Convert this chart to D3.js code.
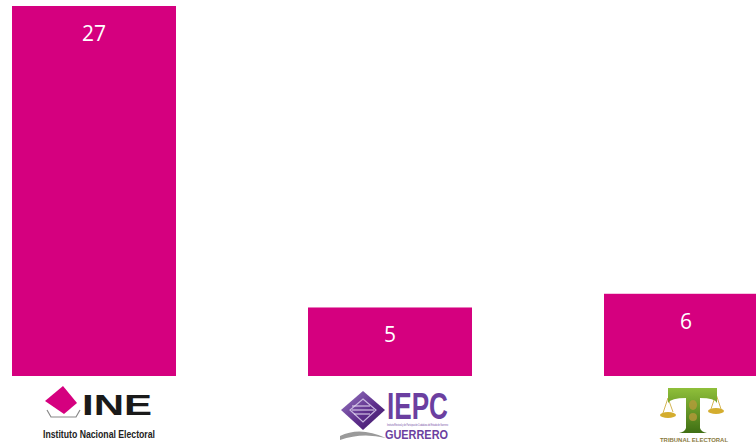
<!DOCTYPE html>
<html>
<head>
<meta charset="utf-8">
<script src="https://cdn.jsdelivr.net/npm/d3@7"></script>
<style>
  html, body { margin: 0; padding: 0; background: #fff; }
  svg { display: block; }
</style>
</head>
<body>
<div id="chart"></div>
<script>
// Data
const categories = ["INE", "IEPC Guerrero", "Tribunal Electoral"];
const values = [27, 5, 6];

const W = 756, H = 444;
const baseY = 376;

const svg = d3.select("#chart").append("svg")
  .attr("width", W)
  .attr("height", H);

const defs = svg.append("defs");
const gPurple = defs.append("linearGradient").attr("id", "gPurple")
  .attr("x1", 0).attr("y1", 0).attr("x2", 1).attr("y2", 1);
gPurple.append("stop").attr("offset", "0%").attr("stop-color", "#9a7cc4");
gPurple.append("stop").attr("offset", "55%").attr("stop-color", "#5e2f8c");
gPurple.append("stop").attr("offset", "100%").attr("stop-color", "#3d1866");
const gGreen = defs.append("linearGradient").attr("id", "gGreen")
  .attr("x1", 0).attr("y1", 0).attr("x2", 0).attr("y2", 1);
gGreen.append("stop").attr("offset", "0%").attr("stop-color", "#8fbf3a");
gGreen.append("stop").attr("offset", "100%").attr("stop-color", "#3f6f14");

// Scales
const x = d3.scaleBand()
  .domain(categories)
  .range([-54, 834])
  .paddingInner(0.446)
  .paddingOuter(0.223);

const y = d3.scaleLinear()
  .domain([0, 27])
  .range([baseY, 6]);

// Bars
svg.selectAll("rect.bar")
  .data(values)
  .enter()
  .append("rect")
  .attr("class", "bar")
  .attr("x", (d, i) => x(categories[i]))
  .attr("y", d => y(d))
  .attr("width", x.bandwidth())
  .attr("height", d => y(0) - y(d))
  .attr("fill", "#d5007f");

// Value labels
svg.selectAll("text.val")
  .data(values)
  .enter()
  .append("text")
  .attr("class", "val")
  .attr("x", (d, i) => x(categories[i]) + x.bandwidth() / 2)
  .attr("y", d => y(d) + 35)
  .attr("text-anchor", "middle")
  .attr("font-family", "'Open Sans', sans-serif")
  .attr("font-size", 21)
  .attr("fill", "#fff")
  .text(d => d);

// X axis with logos as tick labels
const axis = svg.append("g")
  .attr("transform", `translate(0,${baseY})`)
  .call(d3.axisBottom(x).tickSize(0).tickFormat(""));
axis.select(".domain").remove();
axis.attr("text-anchor", "start");

const ticks = axis.selectAll(".tick");

// INE logo
const ine = ticks.filter(d => d === "INE");
ine.append("polygon")
  .attr("points", "-31,10 -17,27 -30,38 -49,25")
  .attr("fill", "#d5007f");
ine.append("polyline")
  .attr("points", "-47,34 -43,41 -18,41 -14,34")
  .attr("fill", "none").attr("stroke", "#888").attr("stroke-width", 1.2);
ine.append("text")
  .attr("x", -12).attr("y", 39)
  .attr("font-family", "'Liberation Sans', Arial, sans-serif")
  .attr("font-weight", "bold").attr("font-size", 29)
  .attr("textLength", 70).attr("lengthAdjust", "spacingAndGlyphs")
  .attr("fill", "#1a1a1a")
  .text("INE");
ine.append("text")
  .attr("x", -51).attr("y", 62)
  .attr("font-family", "'Liberation Sans', Arial, sans-serif")
  .attr("font-weight", "bold").attr("font-size", 11)
  .attr("textLength", 112).attr("lengthAdjust", "spacingAndGlyphs")
  .attr("fill", "#222")
  .text("Instituto Nacional Electoral");

// IEPC logo
const iepc = ticks.filter(d => d === "IEPC Guerrero");
iepc.append("polygon")
  .attr("points", "-27,15 -5,34 -27,54 -49,34")
  .attr("fill", "url(#gPurple)");
iepc.append("polygon")
  .attr("points", "-27,23 -14,34 -27,46 -40,34")
  .attr("fill", "none").attr("stroke", "#c9b8e0").attr("stroke-width", 1.2);
iepc.append("path")
  .attr("d", "M-38,30 L-20,30 M-38,34 L-16,34 M-36,38 L-20,38")
  .attr("stroke", "#e6dcf2").attr("stroke-width", 1);
iepc.append("path")
  .attr("d", "M-50,60 Q-30,50 -4,62 Q-28,56 -50,64 Z")
  .attr("fill", "#9a9a9a");
iepc.append("text")
  .attr("x", -3).attr("y", 43)
  .attr("font-family", "'Liberation Sans', Arial, sans-serif")
  .attr("font-weight", "bold").attr("font-size", 36)
  .attr("textLength", 61).attr("lengthAdjust", "spacingAndGlyphs")
  .attr("fill", "#6b3fa0")
  .text("IEPC");
iepc.append("text")
  .attr("x", -3).attr("y", 50)
  .attr("font-family", "'Liberation Sans', Arial, sans-serif")
  .attr("font-size", 4)
  .attr("textLength", 61).attr("lengthAdjust", "spacingAndGlyphs")
  .attr("fill", "#6b3fa0")
  .text("Instituto Electoral y de Participación Ciudadana del Estado de Guerrero");
iepc.append("text")
  .attr("x", -5).attr("y", 63)
  .attr("font-family", "'Liberation Sans', Arial, sans-serif")
  .attr("font-weight", "bold").attr("font-size", 13)
  .attr("textLength", 63).attr("lengthAdjust", "spacingAndGlyphs")
  .attr("fill", "#6b3fa0")
  .text("GUERRERO");

// Tribunal Electoral logo
const tri = ticks.filter(d => d === "Tribunal Electoral");
tri.append("path")
  .attr("d", "M-18,22 L-13,36 M-18,22 L-23,37 M30,18 L35,33 M30,18 L25,33")
  .attr("stroke", "#c9a227").attr("stroke-width", 0.8);
tri.append("ellipse")
  .attr("cx", -18).attr("cy", 39).attr("rx", 8).attr("ry", 3)
  .attr("fill", "#d4ad2e");
tri.append("ellipse")
  .attr("cx", 30).attr("cy", 35).attr("rx", 8).attr("ry", 3)
  .attr("fill", "#d4ad2e");
tri.append("path")
  .attr("d", "M-18,12 H31 V27 Q29,22 14,22 V52 Q15,56 21,57 H-7 Q-1,56 0,52 V22 Q-15,22 -18,27 Z")
  .attr("fill", "url(#gGreen)");
tri.append("ellipse")
  .attr("cx", 7).attr("cy", 29).attr("rx", 4).attr("ry", 5)
  .attr("fill", "#b59a3a").attr("opacity", 0.8);
tri.append("ellipse")
  .attr("cx", 7).attr("cy", 41).attr("rx", 4).attr("ry", 4)
  .attr("fill", "#b59a3a").attr("opacity", 0.8);
tri.append("text")
  .attr("x", -26).attr("y", 66)
  .attr("font-family", "'Liberation Sans', Arial, sans-serif")
  .attr("font-weight", "bold").attr("font-size", 5.5)
  .attr("textLength", 68).attr("lengthAdjust", "spacingAndGlyphs")
  .attr("fill", "#8a7a40")
  .text("TRIBUNAL ELECTORAL");
</script>
</body>
</html>
